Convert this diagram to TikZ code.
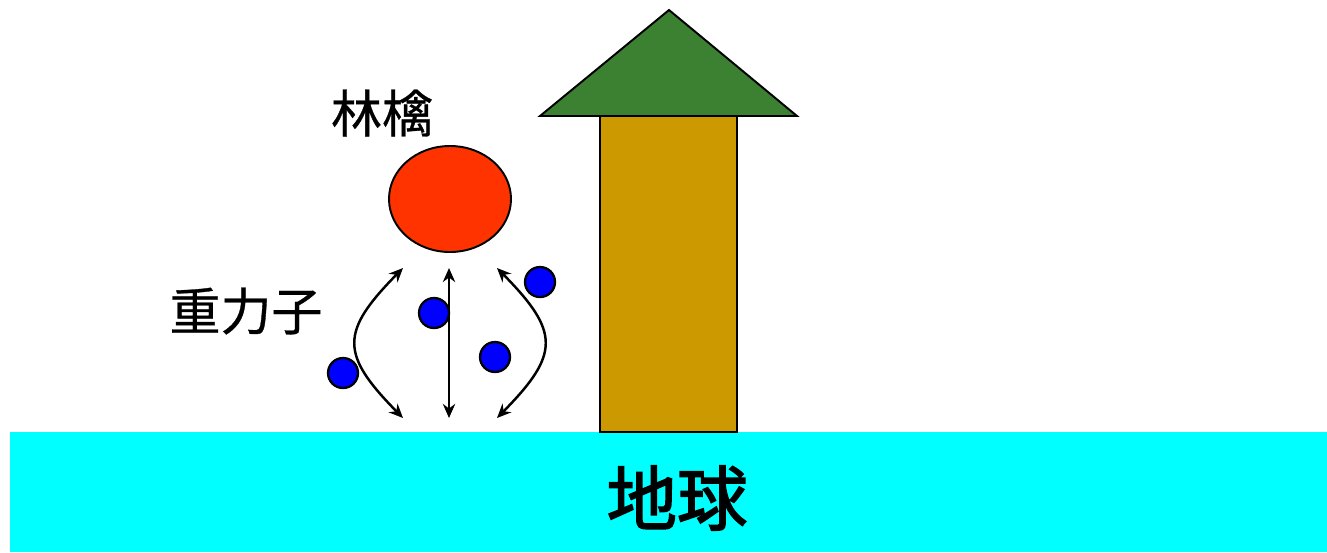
\documentclass[tikz,border=0pt]{standalone}
\usepackage{fontspec}
\newfontfamily\cjk{Noto Sans CJK JP}[FakeBold=0.6]
\newfontfamily\cjkbold{Noto Sans CJK JP}[FakeBold=2.2]
\usetikzlibrary{arrows.meta,shapes.geometric}
\definecolor{groundcyan}{RGB}{0,255,255}
\definecolor{trunkcol}{RGB}{204,153,0}
\definecolor{leafcol}{RGB}{60,128,50}
\definecolor{applecol}{RGB}{255,51,0}
\definecolor{gravcol}{RGB}{0,0,255}
\tikzset{
  outl/.style={draw=black, line width=1.1pt},
  graviton/.style={circle, draw=black, line width=1.3pt, fill=gravcol, minimum size=30*0.02cm, inner sep=0pt},
  exch/.style={line width=1.4pt, {Stealth[length=8pt,width=7pt]}-{Stealth[length=8pt,width=7pt]}},
  lbl/.style={font=\cjk\fontsize{29}{32}\selectfont, inner sep=0pt}
}
\begin{document}
\begin{tikzpicture}[x=0.02cm,y=-0.02cm]
\useasboundingbox (0,0) rectangle (1327,552);
% ground
\fill[groundcyan] (10,432) rectangle (1327,552);
\node[font=\cjkbold\fontsize{40}{44}\selectfont, inner sep=0pt] (earth) at (677,498) {地球};
% tree
\draw[outl, fill=trunkcol] (600,116) rectangle (737,432);
\draw[outl, fill=leafcol, line join=miter] (669,10) -- (797,116) -- (540,116) -- cycle;
% apple
\node[ellipse, outl, fill=applecol, minimum width=122*0.02cm, minimum height=106*0.02cm, inner sep=0pt] (apple) at (450,199) {};
\node[lbl] (applelbl) at (382,113) {林檎};
\node[lbl] (gravlbl) at (246,311) {重力子};
% gravitons
\node[graviton] (g1) at (343,373) {};
\node[graviton] (g2) at (434,313) {};
\node[graviton] (g3) at (495,357) {};
\node[graviton] (g4) at (540,282) {};
% arrows
\coordinate (lt) at (403,268);
\coordinate (lb) at (403,418);
\coordinate (mt) at (449,268);
\coordinate (mb) at (449,418);
\coordinate (rt) at (497,268);
\coordinate (rb) at (497,418);
\draw[exch] (lt) .. controls (340,332) and (340,354) .. (lb);
\draw[exch] (mt) -- (mb);
\draw[exch] (rt) .. controls (560,332) and (560,354) .. (rb);
\end{tikzpicture}
\end{document}
